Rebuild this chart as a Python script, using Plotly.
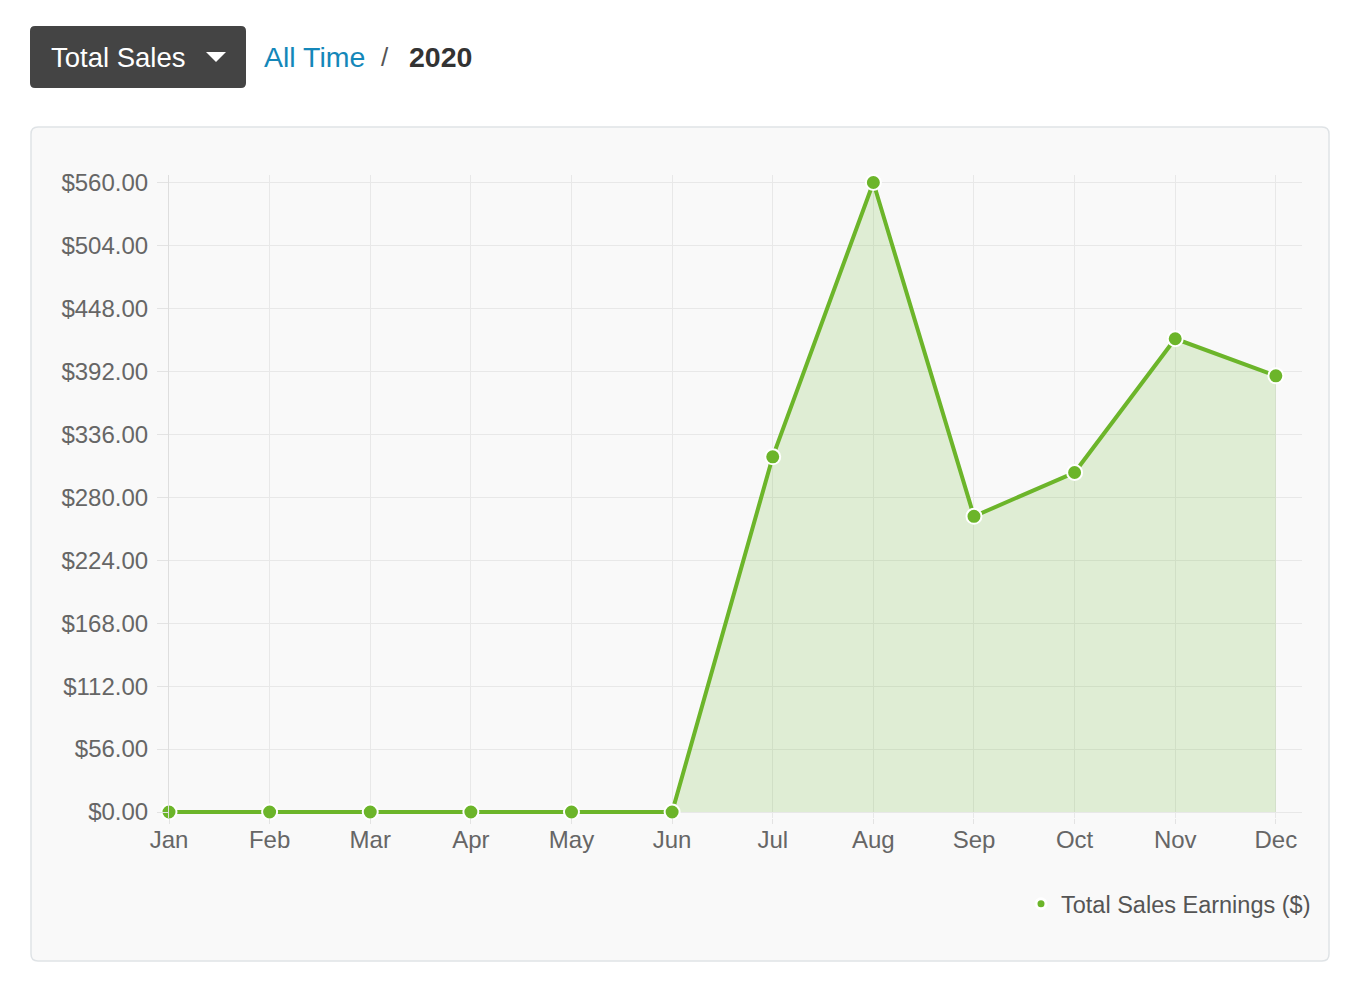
import plotly.graph_objects as go

months = ["Jan", "Feb", "Mar", "Apr", "May", "Jun", "Jul", "Aug", "Sep", "Oct", "Nov", "Dec"]
earnings = [0, 0, 0, 0, 0, 0, 316, 560, 263, 302, 421, 388]
y_ticks = [0, 56, 112, 168, 224, 280, 336, 392, 448, 504, 560]
y_labels = ["$" + f"{v:.2f}" for v in y_ticks]

# page body has an 8px margin, so the figure is a bit smaller than the window
OFF = 8
W, H = 1368 - 2 * OFF, 990 - 2 * OFF
GREEN = "#6cb52a"
FONT = "Liberation Sans, Arial, Helvetica, sans-serif"

# y scale: $0 at 812px, $560 at 182.5px; range dips a little below zero so the
# zero line isn't half clipped
Y_TOP, Y_BOT = 566.5, -5.0
PX_PER = (812 - 182.5) / 560


def px(x):
    return (x - OFF) / W


def py(y):
    return 1 - (y - OFF) / H


def rounded_rect(x0, y0, x1, y1, r):
    # pixel box -> svg path in paper coords
    pts = [
        f"M {px(x0 + r)} {py(y0)}",
        f"L {px(x1 - r)} {py(y0)}",
        f"Q {px(x1)} {py(y0)} {px(x1)} {py(y0 + r)}",
        f"L {px(x1)} {py(y1 - r)}",
        f"Q {px(x1)} {py(y1)} {px(x1 - r)} {py(y1)}",
        f"L {px(x0 + r)} {py(y1)}",
        f"Q {px(x0)} {py(y1)} {px(x0)} {py(y1 - r)}",
        f"L {px(x0)} {py(y0 + r)}",
        f"Q {px(x0)} {py(y0)} {px(x0 + r)} {py(y0)}",
        "Z",
    ]
    return " ".join(pts)


fig = go.Figure()

fig.add_trace(go.Scatter(
    x=list(range(len(months))), y=earnings,
    mode="lines+markers",
    line=dict(color=GREEN, width=4),
    marker=dict(size=15, color=GREEN, line=dict(color="white", width=2)),
    fill="tozeroy", fillcolor="rgba(108,181,42,0.18)",
    cliponaxis=False, showlegend=False,
))

# legend-only entry
fig.add_trace(go.Scatter(
    x=[None], y=[None], mode="markers",
    marker=dict(size=10, color=GREEN, line=dict(color="white", width=3)),
    name="Total Sales Earnings ($)", showlegend=True,
))

shapes = [
    # chart card
    dict(type="path", path=rounded_rect(31, 127, 1329, 961, 7), xref="paper", yref="paper",
         fillcolor="#f9f9f9", line=dict(color="#dfe3e6", width=1.5), layer="below"),
    # dropdown button
    dict(type="path", path=rounded_rect(30, 26, 246, 88, 5), xref="paper", yref="paper",
         fillcolor="#444444", line=dict(width=0), layer="below"),
    # dropdown caret
    dict(type="path",
         path=f"M {px(206)} {py(52)} L {px(226)} {py(52)} L {px(216)} {py(62)} Z",
         xref="paper", yref="paper", fillcolor="white", line=dict(width=0)),
]

annotations = [
    dict(text="Total Sales", x=px(49), y=py(57), xanchor="left", yanchor="middle",
         font=dict(family=FONT, size=27.5, color="white")),
    dict(text="All Time", x=px(262), y=py(57), xanchor="left", yanchor="middle",
         font=dict(family=FONT, size=28.5, color="#1487b9")),
    dict(text="/", x=px(385), y=py(57), xanchor="center", yanchor="middle",
         font=dict(family=FONT, size=26, color="#555555")),
    dict(text="<b>2020</b>", x=px(407), y=py(57), xanchor="left", yanchor="middle",
         font=dict(family=FONT, size=28.5, color="#333333")),
]
for a in annotations:
    a.update(xref="paper", yref="paper", showarrow=False)

fig.update_layout(
    template="none",
    width=W, height=H, autosize=False,
    margin=dict(l=0, r=0, t=0, b=0, pad=0, autoexpand=False),
    paper_bgcolor="white", plot_bgcolor="rgba(0,0,0,0)",
    font=dict(family=FONT, size=24, color="#666666"),
    shapes=shapes, annotations=annotations,
    legend=dict(x=px(1316), y=py(904), xanchor="right", yanchor="middle",
                bgcolor="rgba(0,0,0,0)", font=dict(size=23.5, color="#555555"),
                itemwidth=30),
    xaxis=dict(
        domain=[px(169), px(1302)], range=[0, 11.26],
        tickvals=list(range(len(months))), ticktext=months,
        showgrid=True, gridcolor="#e8e8e8", gridwidth=1,
        ticks="outside", ticklen=5, tickcolor="#e3e3e3",
        ticklabelstandoff=-4,
        zeroline=False, showline=False, fixedrange=True, automargin=False,
    ),
    yaxis=dict(
        domain=[py(812 - Y_BOT * PX_PER), py(812 - Y_TOP * PX_PER)], range=[Y_BOT, Y_TOP],
        tickvals=y_ticks, ticktext=y_labels,
        showgrid=True, gridcolor="#e8e8e8", gridwidth=1,
        ticks="outside", ticklen=11, tickcolor="#e3e3e3",
        ticklabelstandoff=4,
        zeroline=False, showline=True, linecolor="#dedede", linewidth=1,
        fixedrange=True, automargin=False,
    ),
)

fig.write_html("out.html")
